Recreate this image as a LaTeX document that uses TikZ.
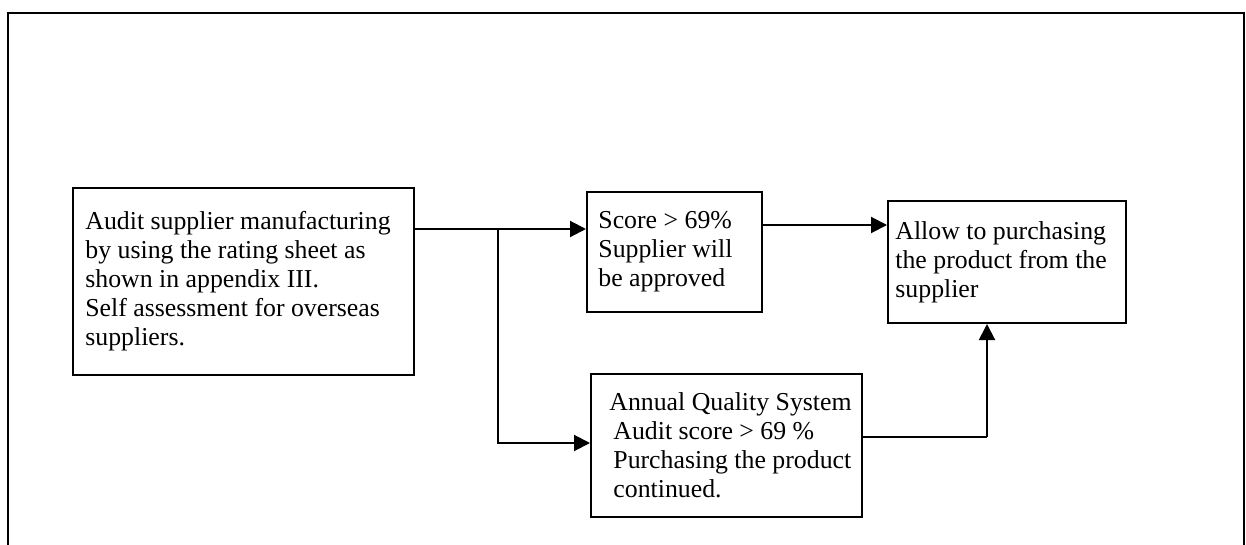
\documentclass[tikz,border=0pt]{standalone}
\usepackage{fontspec}
\setmainfont{Liberation Serif}
\usetikzlibrary{arrows.meta}
\begin{document}
\begin{tikzpicture}[x=0.5pt,y=-0.5pt,
  box/.style={draw, line width=1pt, rectangle, inner sep=0pt},
  txt/.style={inner sep=0pt, anchor=west, align=left, font=\fontsize{12.9}{14.5}\selectfont},
  arr/.style={line width=1pt, -{Triangle[length=8pt,width=8pt]}},
  ln/.style={line width=1pt}]
\useasboundingbox (0,0) rectangle (1246,545);
% outer frame (open at the bottom)
\draw[line width=0.9pt] (8,545) -- (8,13) -- (1244,13) -- (1244,545);
% boxes
\node[box, minimum width=170.5pt, minimum height=93.5pt] (A) at (243.5,281.5) {};
\node[box, minimum width=87.5pt, minimum height=60pt] (B) at (674.5,252) {};
\node[box, minimum width=119pt, minimum height=61pt] (C) at (1007,262) {};
\node[box, minimum width=135.5pt, minimum height=71.5pt] (D) at (726.5,445.5) {};
% texts
\node[txt] (tA) at (85,281.5) {Audit supplier manufacturing\\by using the rating sheet as\\shown in appendix III.\\Self assessment for overseas\\suppliers.};
\node[txt] (tB) at (598,252) {Score > 69\%\\Supplier will\\be approved};
\node[txt] (tC) at (895,262) {Allow to purchasing\\the product from the\\supplier};
\node[txt] (tD) at (609,445.5) {Annual Quality System\\\hspace*{2pt}Audit score > 69 \%\\\hspace*{2pt}Purchasing the product\\\hspace*{2pt}continued.};
% connectors
\coordinate (j) at (498,229);
\coordinate (k) at (987,437);
\draw[arr] (A.east |- j) -- (B.west |- j);
\draw[arr] (j) |- (D.west |- 0,443);
\draw[arr] (B.east |- 0,225) -- (C.west |- 0,225);
\draw[ln] (D.east |- k) -- (k);
\draw[arr] (k) -- (C.south -| k);
\end{tikzpicture}
\end{document}
